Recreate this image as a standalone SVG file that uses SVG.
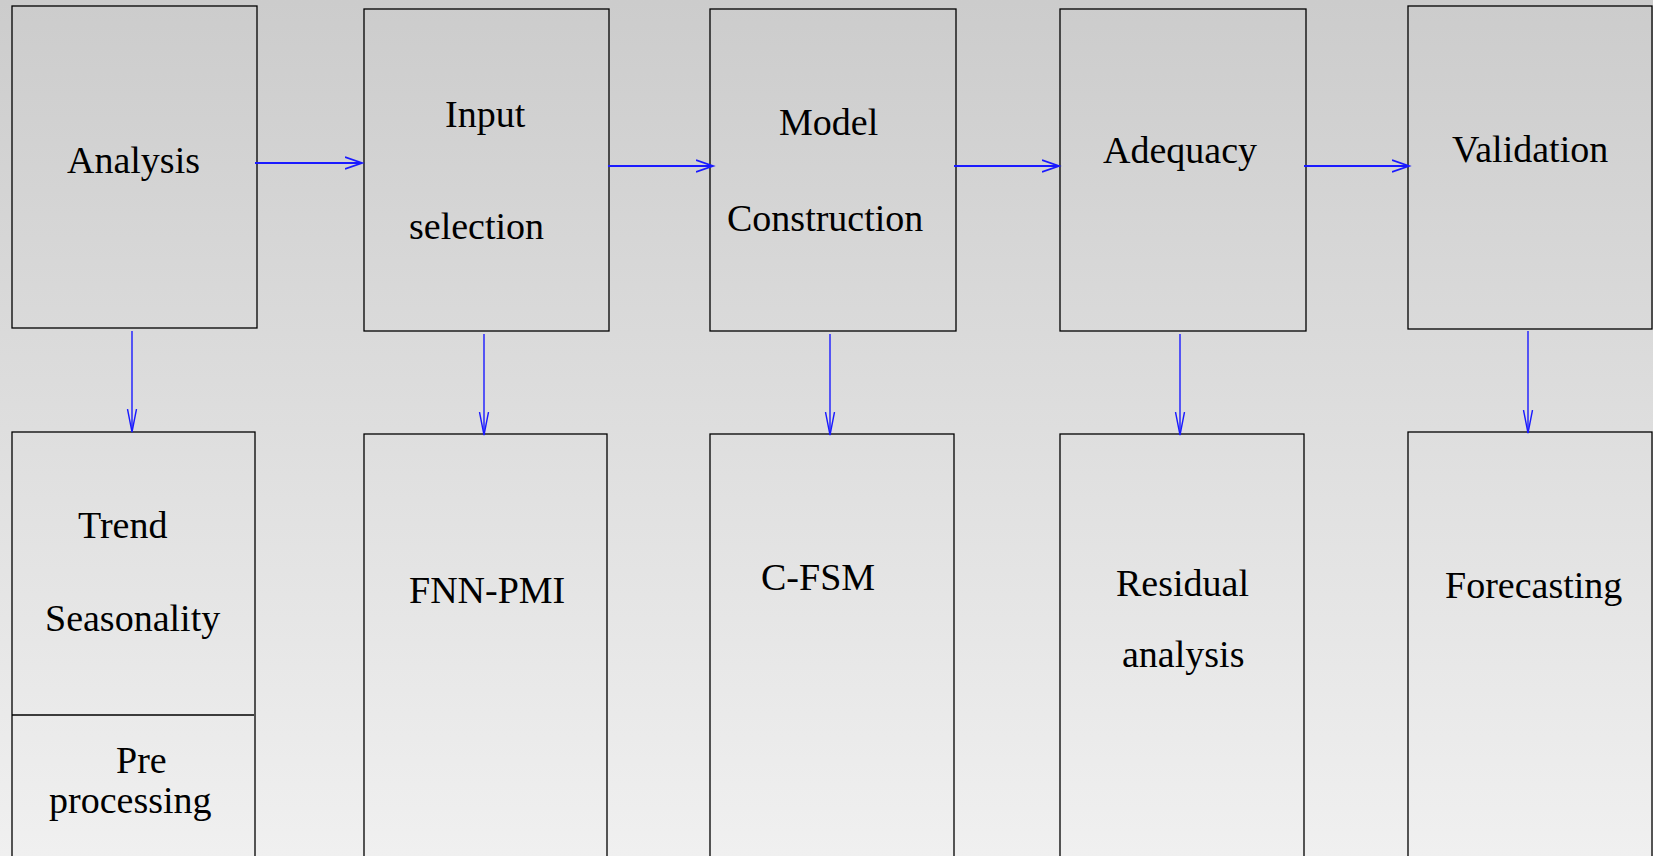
<svg xmlns="http://www.w3.org/2000/svg" width="1653" height="856" viewBox="0 0 1653 856">
  <defs>
    <linearGradient id="bg" x1="0" y1="0" x2="0" y2="1">
      <stop offset="0" stop-color="#cccccc"/>
      <stop offset="1" stop-color="#f0f0f0"/>
    </linearGradient>
    <marker id="ah" markerUnits="userSpaceOnUse" markerWidth="20" markerHeight="14" refX="17" refY="7" orient="auto">
      <path d="M0,1 L17,7 L0,13" fill="none" stroke="#1a1aff" stroke-width="1.8"/>
    </marker>
    <marker id="av" markerUnits="userSpaceOnUse" markerWidth="26" markerHeight="12" refX="23" refY="6" orient="auto">
      <path d="M0,1.5 L23,6 L0,10.5" fill="none" stroke="#1a1aff" stroke-width="1.4"/>
    </marker>
  </defs>
  <style>
    .box { fill: none; stroke: #000; stroke-width: 1.3; }
    .lbl { font-family: "Liberation Serif", "Times New Roman", serif; font-size: 38px; fill: #000; }
    .h { stroke: #1a1aff; stroke-width: 1.8; fill: none; marker-end: url(#ah); }
    .v { stroke: #1a1aff; stroke-width: 1.4; fill: none; marker-end: url(#av); }
  </style>
  <rect x="0" y="0" width="1653" height="856" fill="url(#bg)"/>

  <g id="analysis">
    <rect class="box" x="12" y="6" width="245" height="322"/>
    <text class="lbl" x="67" y="173">Analysis</text>
  </g>
  <g id="input-selection">
    <rect class="box" x="364" y="9" width="245" height="322"/>
    <text class="lbl" x="445" y="127">Input</text>
    <text class="lbl" x="409" y="239">selection</text>
  </g>
  <g id="model-construction">
    <rect class="box" x="710" y="9" width="246" height="322"/>
    <text class="lbl" x="779" y="135">Model</text>
    <text class="lbl" x="727" y="231">Construction</text>
  </g>
  <g id="adequacy">
    <rect class="box" x="1060" y="9" width="246" height="322"/>
    <text class="lbl" x="1103" y="163">Adequacy</text>
  </g>
  <g id="validation">
    <rect class="box" x="1408" y="6" width="244" height="323"/>
    <text class="lbl" x="1452" y="162">Validation</text>
  </g>

  <g id="trend-seasonality">
    <rect class="box" x="12" y="432" width="243" height="440"/>
    <text class="lbl" x="78" y="538">Trend</text>
    <text class="lbl" x="45" y="631">Seasonality</text>
    <line x1="12" y1="715" x2="254" y2="715" stroke="#000" stroke-width="1.3"/>
    <text class="lbl" x="116" y="773">Pre</text>
    <text class="lbl" x="49" y="813">processing</text>
  </g>
  <g id="fnn-pmi">
    <rect class="box" x="364" y="434" width="243" height="440"/>
    <text class="lbl" x="409" y="603">FNN-PMI</text>
  </g>
  <g id="c-fsm">
    <rect class="box" x="710" y="434" width="244" height="440"/>
    <text class="lbl" x="761" y="590">C-FSM</text>
  </g>
  <g id="residual-analysis">
    <rect class="box" x="1060" y="434" width="244" height="440"/>
    <text class="lbl" x="1116" y="596">Residual</text>
    <text class="lbl" x="1122" y="667">analysis</text>
  </g>
  <g id="forecasting">
    <rect class="box" x="1408" y="432" width="244" height="440"/>
    <text class="lbl" x="1445" y="598">Forecasting</text>
  </g>

  <g id="connectors">
    <line class="h" x1="255" y1="163" x2="362" y2="163"/>
    <line class="h" x1="608" y1="166" x2="713" y2="166"/>
    <line class="h" x1="954" y1="166" x2="1059" y2="166"/>
    <line class="h" x1="1304" y1="166" x2="1409" y2="166"/>
    <line class="v" x1="132" y1="331" x2="132" y2="432"/>
    <line class="v" x1="484" y1="334" x2="484" y2="435"/>
    <line class="v" x1="830" y1="334" x2="830" y2="435"/>
    <line class="v" x1="1180" y1="334" x2="1180" y2="435"/>
    <line class="v" x1="1528" y1="331" x2="1528" y2="433"/>
  </g>
</svg>
